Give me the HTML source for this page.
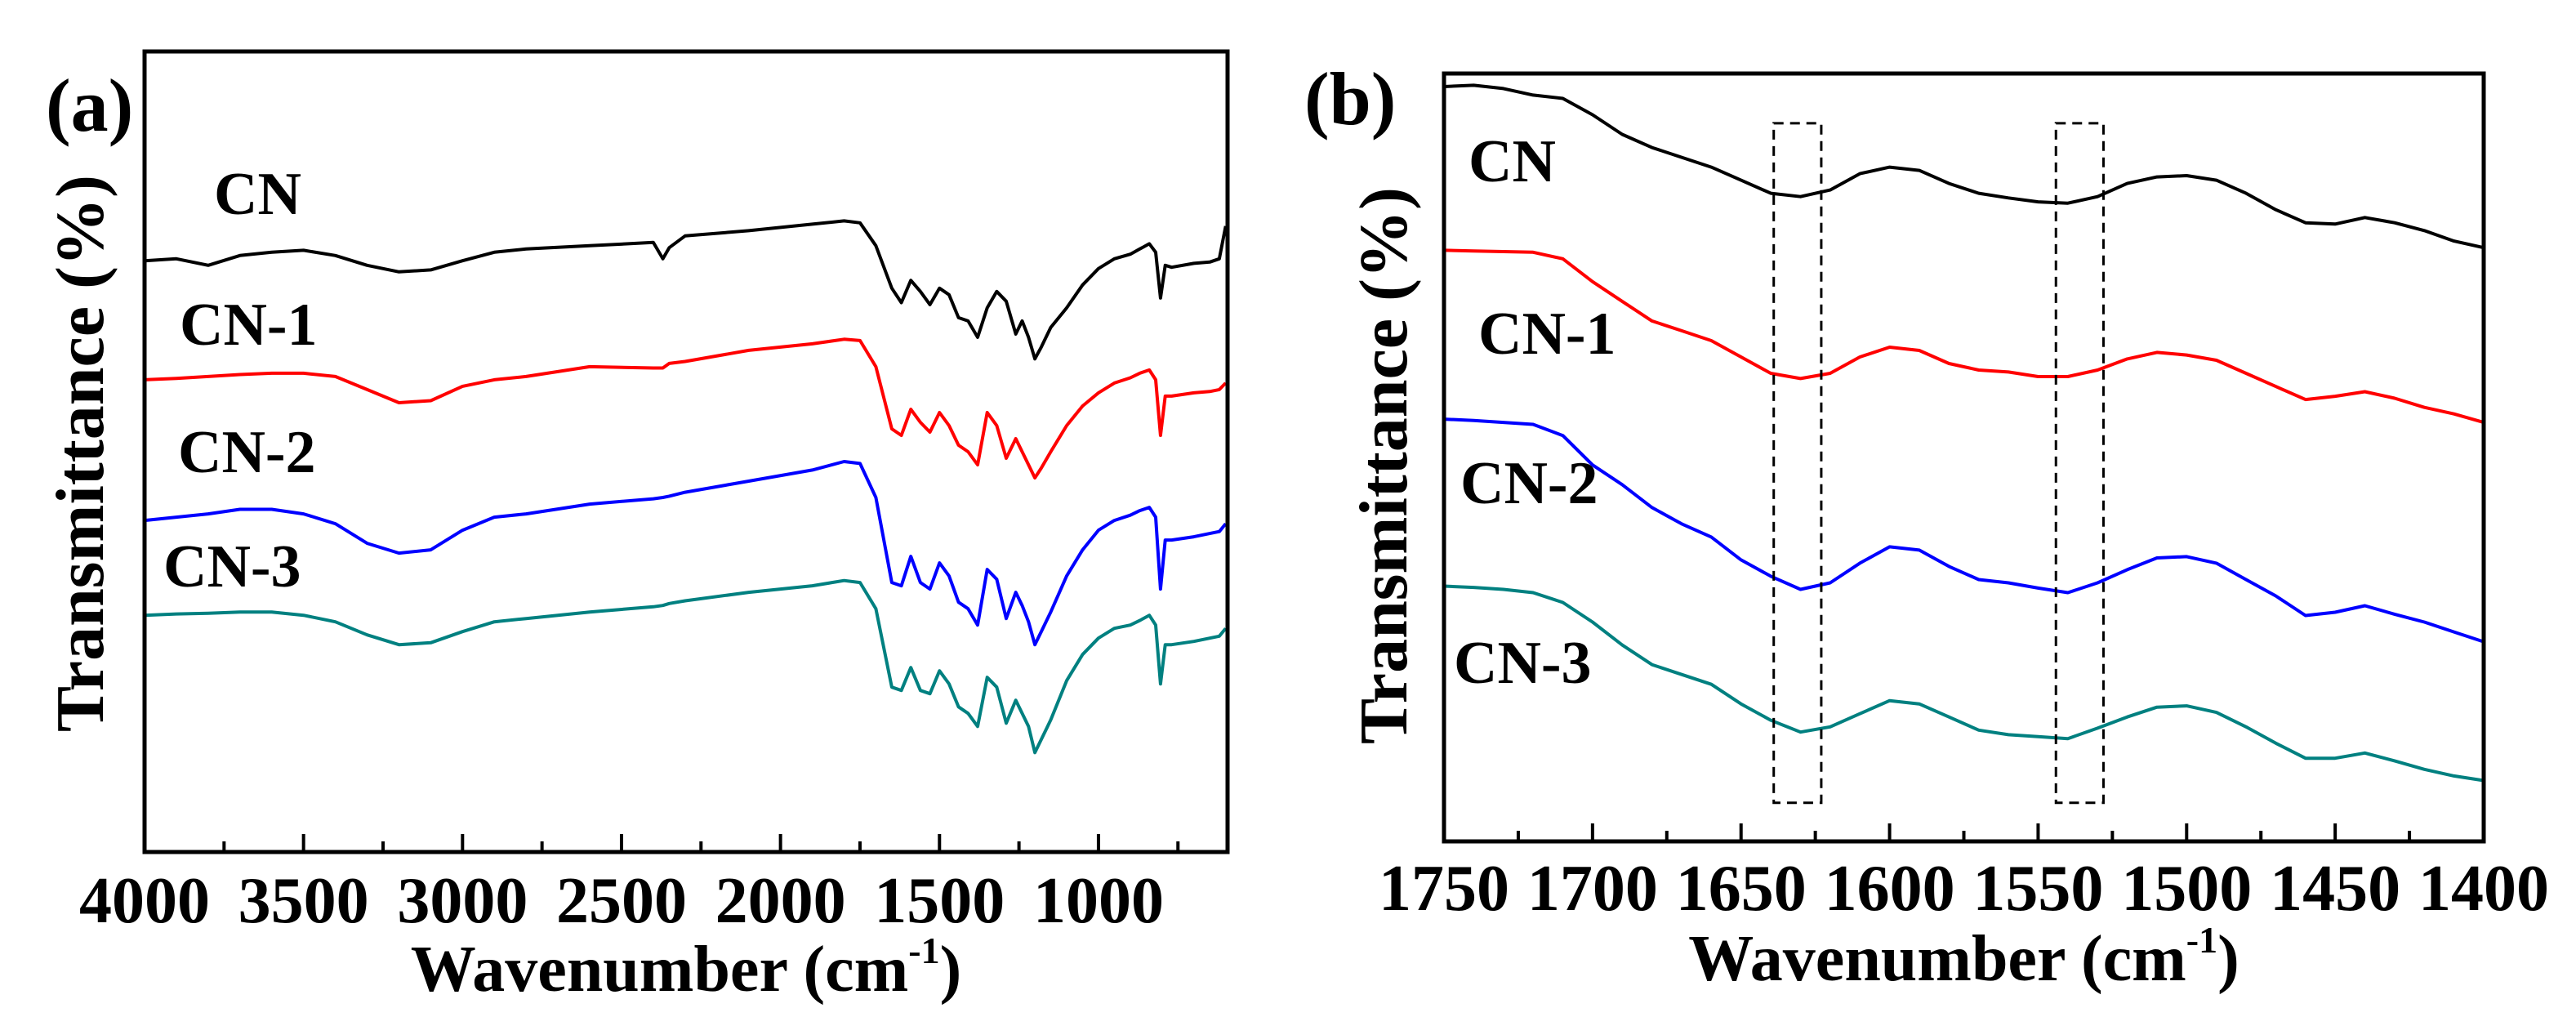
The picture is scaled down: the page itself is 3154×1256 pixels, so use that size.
<!DOCTYPE html>
<html><head><meta charset="utf-8"><style>
html,body{margin:0;padding:0;background:#fff;}
svg{display:block;}
text{font-family:"Liberation Serif",serif;font-weight:bold;fill:#000;}
</style></head><body>
<svg id="fig" width="3154" height="1256" viewBox="0 0 3154 1256" xmlns="http://www.w3.org/2000/svg">
<g id="pa"></g>
<g id="pb"></g>
</svg>
<script>
// ---- Panel (a) data: wavenumber and transmittance readings (arb. units, inverted scale) ----
const aWn = [4000,3900,3800,3700,3600,3500,3400,3300,3200,3100,3000,2900,2800,2600,2400,2370,2350,2300,2100,1900,1800,1750,1700,1650,1620,1590,1560,1530,1500,1470,1440,1410,1380,1350,1320,1290,1260,1240,1220,1200,1180,1150,1100,1050,1000,950,900,870,840,820,805,790,770,700,650,620,600];
const aCN  = [398,395,405,390,385,382,390,405,415,412,398,385,380,375,370,395,378,360,352,342,337,340,375,440,462,428,445,465,440,450,485,490,515,470,445,460,510,490,515,548,530,500,470,435,410,395,388,380,372,385,455,405,408,402,400,395,345];
const aCN1 = [580,578,575,572,570,570,575,595,615,612,590,580,575,560,562,562,555,552,535,525,518,520,560,655,665,625,645,660,630,650,680,690,710,630,650,700,670,690,710,730,715,690,650,620,600,585,577,570,565,580,665,605,605,600,598,595,585];
const aCN2 = [795,790,785,778,778,785,800,830,845,840,810,790,785,770,762,760,758,752,735,718,705,708,760,890,895,850,890,900,860,880,920,930,955,870,885,945,905,925,950,985,965,935,880,840,810,795,787,780,775,790,900,825,825,820,815,812,800];
const aCN3 = [940,938,937,935,935,940,950,970,985,982,965,950,945,935,927,925,922,918,905,895,887,890,930,1050,1055,1020,1055,1060,1025,1045,1080,1090,1110,1035,1050,1105,1070,1090,1110,1150,1130,1100,1040,1000,975,960,955,948,940,955,1045,985,985,980,975,972,960];
const aTicks = [4000,3500,3000,2500,2000,1500,1000];
const aMinor = [3750,3250,2750,2250,1750,1250,750];

// ---- Panel (b) data ----
const bWn = [1750,1740,1730,1720,1710,1700,1690,1680,1670,1660,1650,1640,1630,1620,1610,1600,1590,1580,1570,1560,1550,1540,1530,1520,1510,1500,1490,1480,1470,1460,1450,1440,1430,1420,1410,1400];
const bCN  = [132,130,135,145,150,175,205,225,240,255,275,295,300,290,265,255,260,280,295,302,308,310,300,280,270,268,275,295,320,340,342,332,340,352,368,378];
const bCN1 = [382,383,384,385,395,430,460,490,505,520,545,570,578,570,545,530,535,555,565,568,575,575,565,548,538,542,550,570,590,610,605,598,608,622,632,645];
const bCN2 = [640,642,645,648,665,710,740,775,800,820,855,880,900,890,860,835,840,865,885,890,898,905,890,870,852,850,860,885,910,940,935,925,938,950,965,980];
const bCN3 = [895,897,900,905,920,950,985,1015,1030,1045,1075,1100,1118,1110,1090,1070,1075,1095,1115,1122,1125,1128,1112,1095,1080,1078,1088,1110,1135,1158,1158,1150,1162,1175,1185,1192];
const bTicks = [1750,1700,1650,1600,1550,1500,1450,1400];
const bMinor = [1725,1675,1625,1575,1525,1475,1425];
const bBoxes = [[1639,1623],[1544,1528]];
const bBoxY = [188,1226];

const NS="http://www.w3.org/2000/svg";
function mk(parent,tag,attrs){const e=document.createElementNS(NS,tag);for(const k in attrs)e.setAttribute(k,attrs[k]);parent.appendChild(e);return e;}
const colors=["#000000","#ff0000","#0000ff","#008080"];

function panel(g,cfg){
  const {x0,x1,y0,y1,xd,yd}=cfg;
  const X=v=>x0+(v-xd[0])/(xd[1]-xd[0])*(x1-x0);
  const Y=v=>y0+(v-yd[0])/(yd[1]-yd[0])*(y1-y0);
  cfg.series.forEach((s,i)=>{
    const d=s.map((v,j)=>(j?'L':'M')+X(cfg.wn[j]).toFixed(1)+','+Y(v).toFixed(1)).join('');
    const p=mk(g,'path',{d:d,fill:'none',stroke:colors[i],'stroke-width':4,'stroke-linejoin':'round'});
    
    
  });
  (cfg.boxes||[]).forEach((b,i)=>{
    const r=mk(g,'rect',{x:X(b[0]),y:Y(cfg.boxY[0]),width:X(b[1])-X(b[0]),height:Y(cfg.boxY[1])-Y(cfg.boxY[0]),fill:'none',stroke:'#000','stroke-width':3,'stroke-dasharray':'12,8'});
    
    
  });
  const fr=mk(g,'rect',{x:x0,y:y0,width:x1-x0,height:y1-y0,fill:'none',stroke:'#000','stroke-width':5});
  
  
  cfg.ticks.forEach(t=>{
    const tx=X(t);
    const l=mk(g,'line',{x1:tx,x2:tx,y1:y1,y2:y1-22,stroke:'#000','stroke-width':4});
    
    
    const tt=mk(g,'text',{x:tx,y:y1+cfg.tickDy,'font-size':80,'text-anchor':'middle'});
    tt.textContent=t;
    
    
  });
  cfg.minor.forEach(t=>{
    const tx=X(t); if(tx>x1) return;
    const l=mk(g,'line',{x1:tx,x2:tx,y1:y1,y2:y1-13,stroke:'#000','stroke-width':4});
    
    
  });
  cfg.labels.forEach(lb=>{
    const t=mk(g,'text',{x:lb[1],y:lb[2],'font-size':74});
    t.textContent=lb[0];
    
    
  });
  const xt=mk(g,'text',{x:(x0+x1)/2,y:y1+cfg.titleDy,'font-size':80,'text-anchor':'middle'});
  xt.innerHTML='Wavenumber (cm<tspan dy="-34" font-size="46">-1</tspan><tspan dy="34">)</tspan>';
  
  
  const yt=mk(g,'text',{x:0,y:0,'font-size':84,'text-anchor':'middle',transform:`translate(${cfg.ytx},${cfg.yty}) rotate(-90)`});
  yt.textContent='Transmittance (%)';
  
  
  const pl=mk(g,'text',{x:cfg.plx,y:cfg.ply,'font-size':92});
  pl.textContent=cfg.pl;
  
  
}

panel(document.getElementById('pa'),{x0:177,x1:1503,y0:63,y1:1043,xd:[4000,594],yd:[78,1302],
  wn:aWn,series:[aCN,aCN1,aCN2,aCN3],names:["CN","CN-1","CN-2","CN-3"],ticks:aTicks,minor:aMinor,
  labels:[["CN",262,262],["CN-1",220,422],["CN-2",218,578],["CN-3",200,718]],
  tickDy:86,titleDy:170,ytx:126,yty:555,pl:"(a)",plx:56,ply:160});
panel(document.getElementById('pb'),{x0:1768,x1:3041,y0:90,y1:1030,xd:[1750,1400],yd:[112,1285],
  wn:bWn,series:[bCN,bCN1,bCN2,bCN3],names:["CN","CN-1","CN-2","CN-3"],ticks:bTicks,minor:bMinor,
  boxes:bBoxes,boxY:bBoxY,
  labels:[["CN",1798,222],["CN-1",1810,433],["CN-2",1788,616],["CN-3",1780,836]],
  tickDy:84,titleDy:170,ytx:1722,yty:570,pl:"(b)",plx:1597,ply:152});
</script>
</body></html>
